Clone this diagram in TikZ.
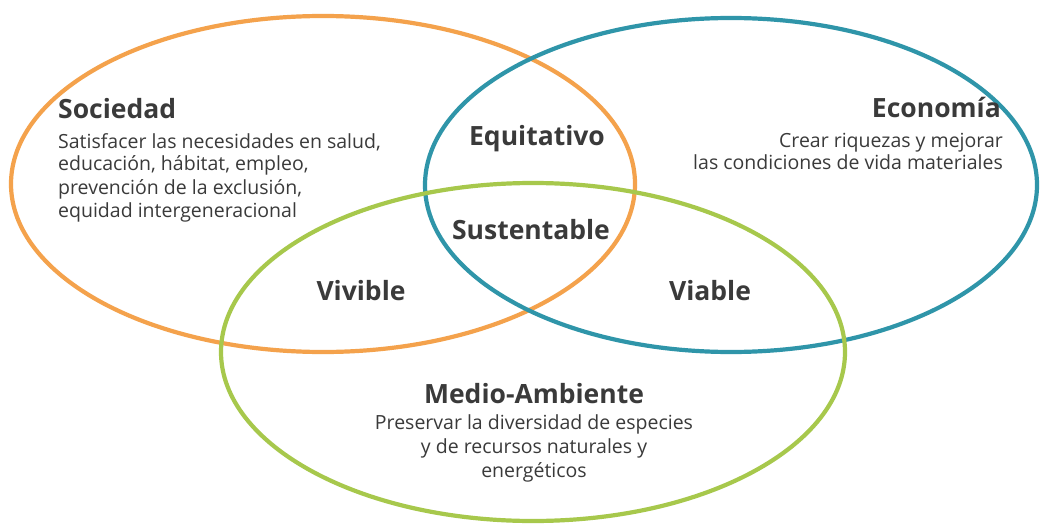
\documentclass[tikz,border=0pt]{standalone}
\usepackage{fontspec}
\setmainfont{Open Sans}
\definecolor{socorange}{HTML}{F4A24C}
\definecolor{ecoblue}{HTML}{2F95A9}
\definecolor{envgreen}{HTML}{A7C84C}
\definecolor{txtgray}{HTML}{3A3A3A}
\begin{document}
\begin{tikzpicture}[x=1pt,y=-1pt,
  ring/.style={line width=4.2pt},
  head/.style={font=\fontsize{26.5}{30}\selectfont\bfseries, text=txtgray, inner sep=0pt},
  body/.style={font=\fontsize{19.5}{23}\selectfont, text=txtgray, inner sep=0pt},
  inter/.style={font=\fontsize{26.5}{30}\selectfont\bfseries, text=txtgray, inner sep=0pt, anchor=base}]
\useasboundingbox (0,0) rectangle (1041,524);
\fill[white] (0,0) rectangle (1041,524);
% circles
\draw[ring, socorange] (323,184) ellipse [x radius=312pt, y radius=168pt];
\draw[ring, ecoblue] (731,185) ellipse [x radius=306pt, y radius=167pt];
\draw[ring, envgreen] (533,352) ellipse [x radius=312pt, y radius=169pt];
% Sociedad
\node[head, anchor=base west] (soc) at (58,119) {Sociedad};
\node[body, anchor=base west] (soc1) at (58,148) {Satisfacer las necesidades en salud,};
\node[body, anchor=base west] (soc2) at (58,171) {educación, hábitat, empleo,};
\node[body, anchor=base west] (soc3) at (58,194) {prevención de la exclusión,};
\node[body, anchor=base west] (soc4) at (58,217) {equidad intergeneracional};
% Economia
\node[head, anchor=base east] (eco) at (1001,118) {Economía};
\node[body, anchor=base east] (eco1) at (1003,147) {Crear riquezas y mejorar};
\node[body, anchor=base east] (eco2) at (1003,169) {las condiciones de vida materiales};
% Medio-Ambiente
\node[head, anchor=base] (env) at (534,403) {Medio-Ambiente};
\node[body, anchor=base] (env1) at (534,429) {Preservar la diversidad de especies};
\node[body, anchor=base] (env2) at (534,453) {y de recursos naturales y};
\node[body, anchor=base] (env3) at (534,477) {energéticos};
% intersections
\node[inter] (equi) at (537,146) {Equitativo};
\node[inter] (sust) at (531,239) {Sustentable};
\node[inter] (vivi) at (361,300) {Vivible};
\node[inter] (viab) at (710,300) {Viable};
\end{tikzpicture}
\end{document}
